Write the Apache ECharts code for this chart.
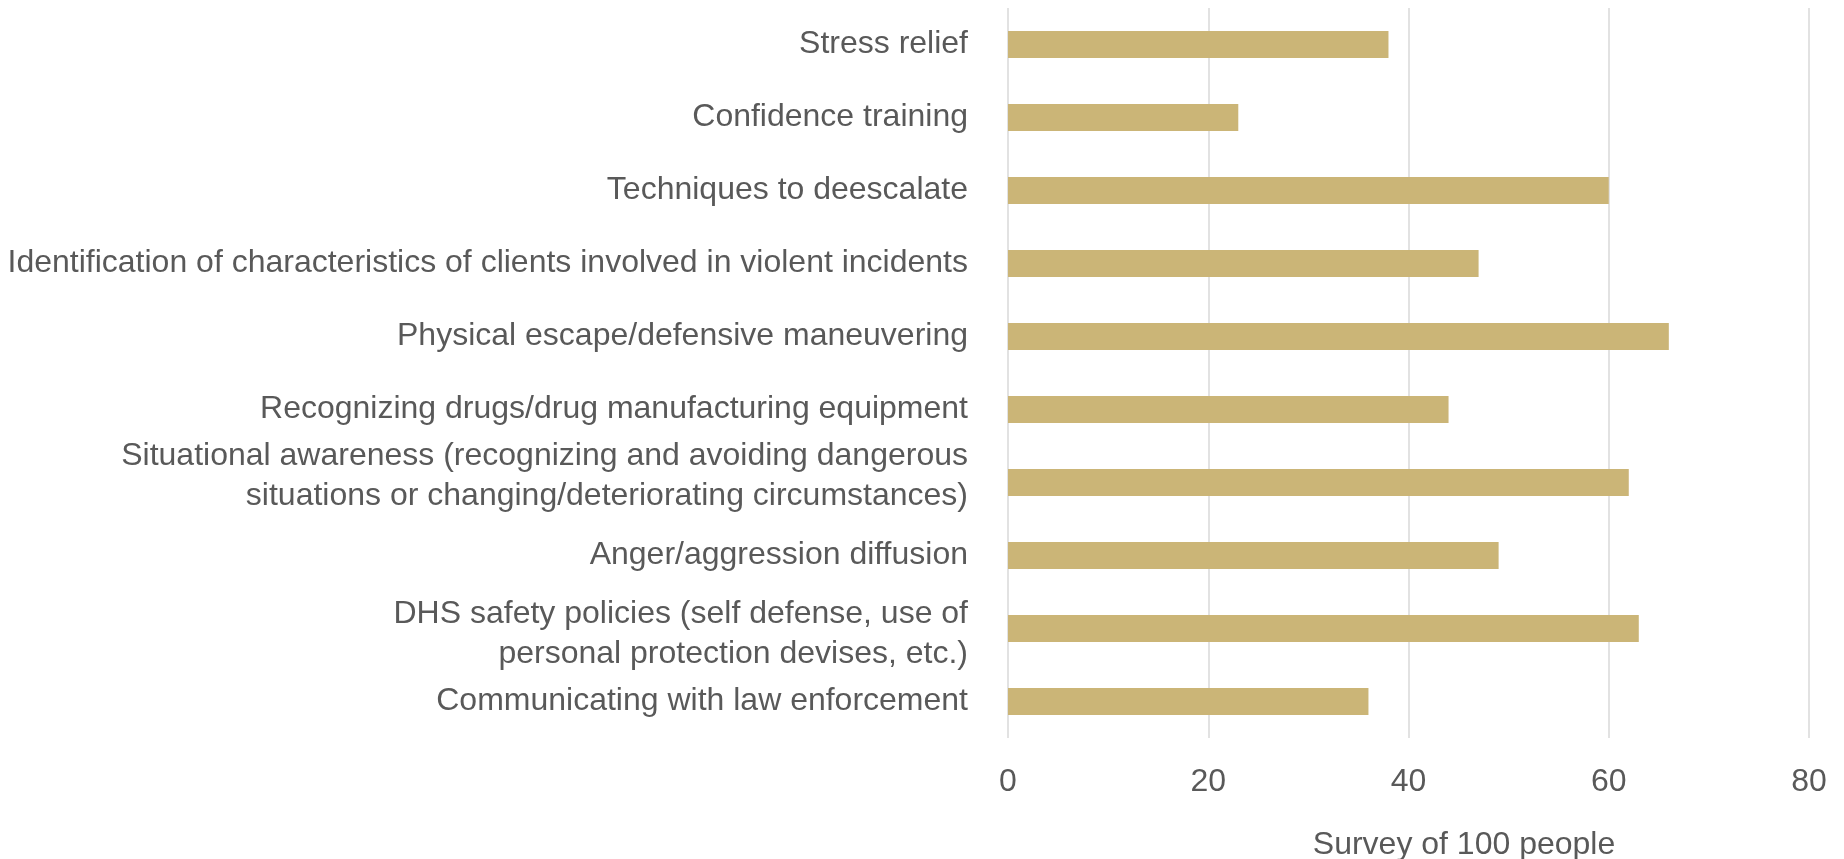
<!DOCTYPE html>
<html>
<head>
<meta charset="utf-8">
<script src="https://cdn.jsdelivr.net/npm/echarts@6/dist/echarts.min.js"></script>
<style>html,body{margin:0;padding:0;background:#fff;}#c{width:1844px;height:859px;}</style>
</head>
<body>
<div id="c"></div>
<script>
const categories = [
  "Stress relief",
  "Confidence training",
  "Techniques to deescalate",
  "Identification of characteristics of clients involved in violent incidents",
  "Physical escape/defensive maneuvering",
  "Recognizing drugs/drug manufacturing equipment",
  "Situational awareness (recognizing and avoiding dangerous\nsituations or changing/deteriorating circumstances)",
  "Anger/aggression diffusion",
  "DHS safety policies (self defense, use of\npersonal protection devises, etc.)",
  "Communicating with law enforcement"
];
const values = [38, 23, 60, 47, 66, 44, 62, 49, 63, 36];
const axisTitle = "Survey of 100 people";

const chart = echarts.init(document.getElementById('c'), null, {renderer: 'canvas'});
const font = '"Liberation Sans", Arial, sans-serif';
chart.setOption({
  animation: false,
  grid: {left: 1008, right: 35, top: 8, bottom: 121, containLabel: false},
  xAxis: {
    type: 'value', min: 0, max: 80, interval: 20,
    axisLine: {show: false}, axisTick: {show: false},
    splitLine: {show: true, lineStyle: {color: '#d9d9d9', width: 1.5}},
    axisLabel: {color: '#595959', fontSize: 32, fontFamily: font, margin: 28}
  },
  yAxis: {
    type: 'category', data: categories, inverse: true,
    axisLine: {show: false}, axisTick: {show: false},
    axisLabel: {
      color: '#595959', fontSize: 32, fontFamily: font, margin: 40, lineHeight: 40, align: 'right',
      formatter: function (value, index) {
        if (index === 6) return value + '\n{s| }';
        if (index === 8) return '{s| }\n' + value;
        return value;
      },
      rich: {s: {fontSize: 1, lineHeight: 12}}
    }
  },
  graphic: [{
    type: 'text', x: 1464, y: 845,
    style: {text: axisTitle, fill: '#595959', font: '32px ' + font, textAlign: 'center', textVerticalAlign: 'middle'}
  }],
  series: [{
    type: 'bar', data: values, barWidth: 27,
    itemStyle: {color: '#CBB577'}
  }]
});
</script>
</body>
</html>
